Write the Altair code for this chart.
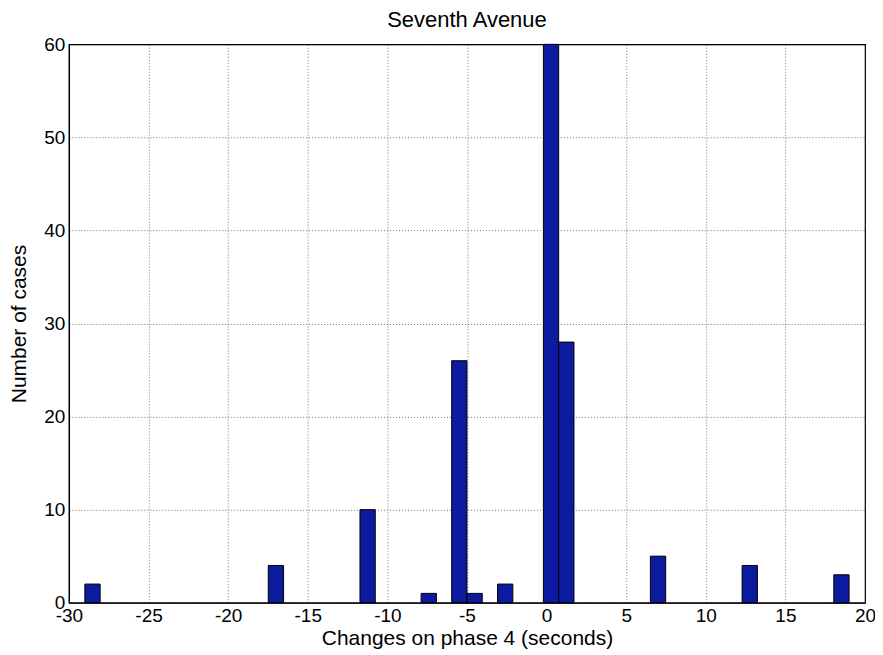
import altair as alt
import pandas as pd

# Histogram bins (seconds) and counts
bin_start = [-29.0, -17.48, -11.72, -7.88, -5.96, -5.0, -3.08, -0.2, 0.76, 6.52, 12.28, 18.04]
bin_end = [-28.04, -16.52, -10.76, -6.92, -5.0, -4.04, -2.12, 0.76, 1.72, 7.48, 13.24, 19.0]
counts = [2, 4, 10, 1, 26, 1, 2, 60, 28, 5, 4, 3]

x_ticks = [-30, -25, -20, -15, -10, -5, 0, 5, 10, 15, 20]
y_ticks = [0, 10, 20, 30, 40, 50, 60]

df = pd.DataFrame({"start": bin_start, "end": bin_end, "count": counts})

FONT = "Liberation Sans"

chart = alt.Chart(df).mark_bar(
    color="#0c1aa0", stroke="black", strokeWidth=1
).encode(
    x=alt.X("start:Q",
            scale=alt.Scale(domain=[-30, 20], nice=False, zero=False),
            axis=alt.Axis(values=x_ticks, title="Changes on phase 4 (seconds)",
                          labelExpr="toString(datum.value)")),
    x2="end:Q",
    y=alt.Y("count:Q",
            scale=alt.Scale(domain=[0, 60], nice=False),
            axis=alt.Axis(values=y_ticks, title="Number of cases",
                          labelExpr="toString(datum.value)")),
    y2=alt.datum(0),
).properties(
    width=797,
    height=559,
    title=alt.TitleParams("Seventh Avenue", font=FONT, fontSize=22,
                          fontWeight="normal", color="black", offset=3),
    autosize=alt.AutoSizeParams(type="none"),
    padding={"left": 61, "top": 36, "right": 10, "bottom": 48},
).configure_view(
    stroke="black", strokeWidth=1.2
).configure_axis(
    labelFont=FONT, labelFontSize=19, labelColor="black",
    titleFont=FONT, titleFontSize=21, titleFontWeight="normal", titleColor="black",
    domainColor="black", domainWidth=1.2,
    ticks=False, labelPadding=4,
    grid=True, gridColor="black", gridDash=[1, 2], gridWidth=0.6, gridOpacity=0.9,
    labelFlush=False,
).configure_axisX(
    titlePadding=2
).configure_axisY(
    titlePadding=14
)

chart.save("out.html", embed_options={"renderer": "svg", "actions": False})
